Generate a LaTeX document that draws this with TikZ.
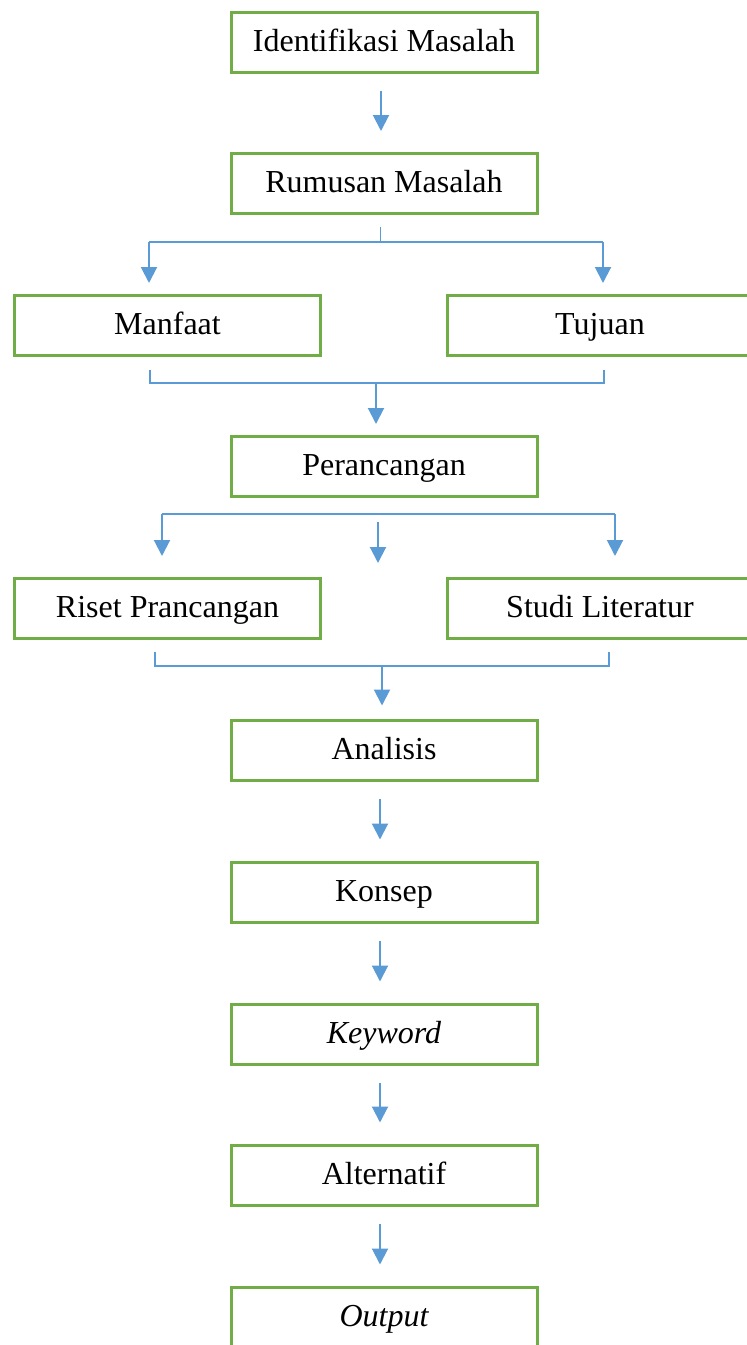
\documentclass[tikz,border=0pt]{standalone}
\usepackage{fontspec}
\setmainfont{Liberation Serif}
\usetikzlibrary{arrows.meta}
\definecolor{boxgreen}{HTML}{70AD47}
\definecolor{linkblue}{HTML}{5B9BD5}
\begin{document}
\begin{tikzpicture}[x=1pt,y=-1pt,
  box/.style={draw=boxgreen,line width=3pt,fill=white,minimum width=306pt,minimum height=60pt,inner sep=0pt,
    font=\fontsize{32}{38}\selectfont,text height=22pt,text depth=4pt},
  arr/.style={draw=linkblue,line width=2pt,-{Triangle[width=16pt,length=16pt]}},
  link/.style={draw=linkblue,line width=1.5pt},
  stub/.style={draw=linkblue,line width=1pt}]
\useasboundingbox (0,0) rectangle (747,1345);
% boxes
\node[box] (id)  at (384,42)    {Identifikasi Masalah};
\node[box] (rm)  at (384,183.5) {Rumusan Masalah};
\node[box] (mf)  at (167.5,325.5) {Manfaat};
\node[box] (tj)  at (600,325.5) {Tujuan};
\node[box] (pr)  at (384,466.5) {Perancangan};
\node[box] (rs)  at (167.5,608.5) {Riset Prancangan};
\node[box] (sl)  at (600,608.5) {Studi Literatur};
\node[box] (an)  at (384,750)   {Analisis};
\node[box] (ks)  at (384,892)   {Konsep};
\node[box] (kw)  at (384,1034)  {\itshape Keyword};
\node[box] (al)  at (384,1175)  {Alternatif};
\node[box] (op)  at (384,1317)  {\itshape Output};
% simple arrows
\draw[arr] ([xshift=-3pt,yshift=-17pt]id.south) -- ([xshift=-3pt,yshift=21pt]rm.north);
\draw[arr] ([xshift=-4pt,yshift=-17pt]an.south) -- ([xshift=-4pt,yshift=21pt]ks.north);
\draw[arr] ([xshift=-4pt,yshift=-17pt]ks.south) -- ([xshift=-4pt,yshift=21pt]kw.north);
\draw[arr] ([xshift=-4pt,yshift=-17pt]kw.south) -- ([xshift=-4pt,yshift=21pt]al.north);
\draw[arr] ([xshift=-4pt,yshift=-17pt]al.south) -- ([xshift=-4pt,yshift=21pt]op.north);
% Rumusan split
\coordinate (rs1) at (380,227);
\coordinate (rs2) at (380,242);
\draw[stub] (rs1) -- (rs2);
\draw[link] (149,242) -- (603,242);
\draw[arr] (149,242) -- ([xshift=-18.5pt,yshift=11pt]mf.north);
\draw[arr] (603,242) -- ([xshift=3pt,yshift=11pt]tj.north);
% Manfaat/Tujuan join
\draw[link] ([xshift=-17.5pt,yshift=-13pt]mf.south) |- (376,383) -| ([xshift=4pt,yshift=-13pt]tj.south);
\draw[arr] (376,383) -- ([xshift=-8pt,yshift=11pt]pr.north);
% Perancangan split
\draw[link] (162,514) -- (615,514);
\draw[arr] (162,514) -- ([xshift=-5.5pt,yshift=21pt]rs.north);
\draw[arr] (615,514) -- ([xshift=15pt,yshift=21pt]sl.north);
\draw[arr] ([xshift=-6pt,yshift=-24pt]pr.south) -- ([xshift=-6pt,yshift=14pt]pr.south |- rs.north);
% Riset/Studi join
\draw[link] ([xshift=-12.5pt,yshift=-12pt]rs.south) |- (382,666) -| ([xshift=9pt,yshift=-12pt]sl.south);
\draw[arr] (382,666) -- ([xshift=-2pt,yshift=13pt]an.north);
\end{tikzpicture}
\end{document}
